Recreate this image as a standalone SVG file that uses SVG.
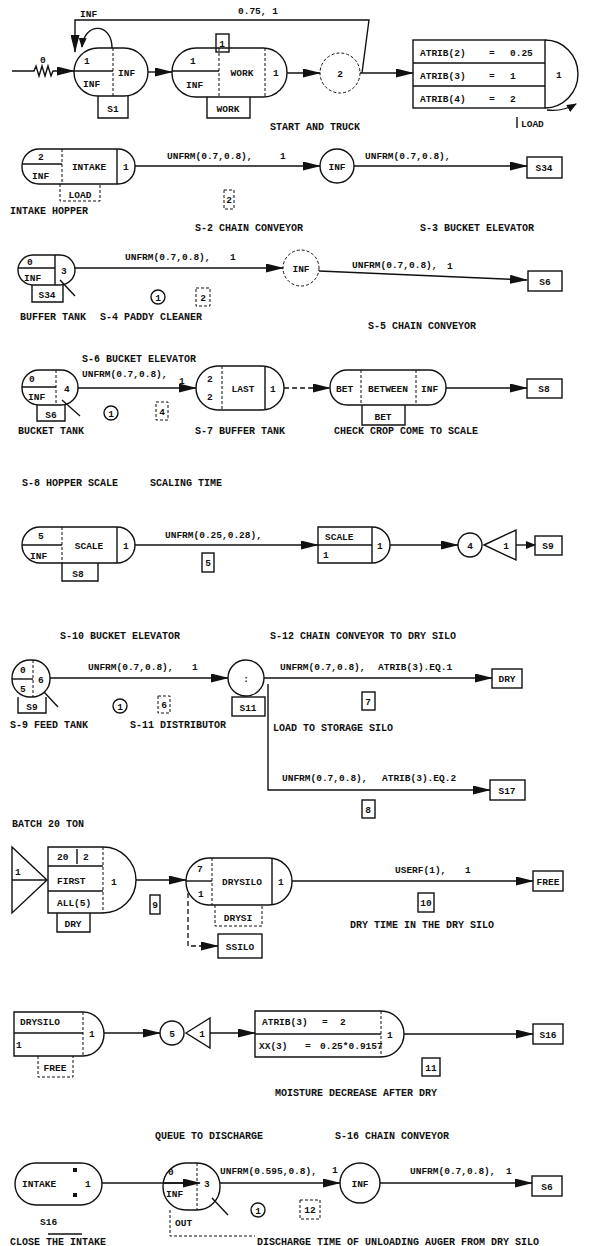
<svg xmlns="http://www.w3.org/2000/svg" width="590" height="1246" viewBox="0 0 590 1246">
<style>
.l{stroke:#111;stroke-width:1.4;fill:none}
.d{stroke:#111;stroke-width:1;fill:none;stroke-dasharray:3 2}
.dl{stroke:#111;stroke-width:1.3;fill:none;stroke-dasharray:5 3}
.t{font-family:"Liberation Mono",monospace;font-size:9.5px;font-weight:bold;fill:#111}
.c{text-anchor:middle}
.lb{font-size:10px}
</style>
<defs>
<marker id="a" markerUnits="userSpaceOnUse" markerWidth="18" markerHeight="9" refX="17" refY="4.5" orient="auto"><path d="M0,0 L18,4.5 L0,9 z" fill="#111"/></marker>
<marker id="s" markerUnits="userSpaceOnUse" markerWidth="10" markerHeight="8" refX="9" refY="4" orient="auto"><path d="M0,0 L10,4 L0,8 z" fill="#111"/></marker>
</defs>
<rect width="590" height="1246" fill="#fff"/>

<g id="connectors">
<path class="l" d="M12,71 H34 l2,-5 l3,10 l3,-10 l3,10 l3,-10 l3,10 l2,-5 H74" marker-end="url(#a)"/>
<path class="l" d="M112,48 C112,22 84,22 82,47" marker-end="url(#s)"/>
<path class="l" d="M362,73 L369,20 H75 V52" marker-end="url(#a)"/>
<path class="l" d="M148,72 H172" marker-end="url(#a)"/>
<path class="l" d="M287,73 H320" marker-end="url(#a)"/>
<path class="l" d="M360,73 H413" marker-end="url(#a)"/>
<path class="l" d="M547,110 Q562,112 576,104" marker-end="url(#s)"/>
<path class="l" d="M135,166 H320" marker-end="url(#a)"/>
<path class="l" d="M354,166 H527" marker-end="url(#a)"/>
<path class="l" d="M75,268 H283" marker-end="url(#a)"/>
<path class="l" d="M319,271 L527,280" marker-end="url(#a)"/>
<path class="l" d="M78,388 H196" marker-end="url(#a)"/>
<path class="dl" d="M284,388 H330" marker-end="url(#a)"/>
<path class="l" d="M446,388 H527" marker-end="url(#a)"/>
<path class="l" d="M135,545 H318" marker-end="url(#a)"/>
<path class="l" d="M390,545 H458" marker-end="url(#a)"/>
<path class="l" d="M516,545 H535" marker-end="url(#s)"/>
<path class="l" d="M50,678 H228" marker-end="url(#a)"/>
<path class="l" d="M264,678 H492" marker-end="url(#a)"/>
<path class="l" d="M268,684 V790 H490" marker-end="url(#a)"/>
<path class="l" d="M136,880 H186" marker-end="url(#a)"/>
<path class="dl" d="M188,893 V946 H218" marker-end="url(#a)"/>
<path class="l" d="M292,881 H533" marker-end="url(#a)"/>
<path class="l" d="M104,1033 H160" marker-end="url(#a)"/>
<path class="l" d="M210,1033 H255" marker-end="url(#a)"/>
<path class="l" d="M404,1034 H533" marker-end="url(#a)"/>
<path class="l" d="M102,1183 H200" marker-end="url(#a)"/>
<path class="l" d="M220,1183 H340" marker-end="url(#a)"/>
<path class="l" d="M380,1183 H532" marker-end="url(#a)"/>
<text class="t" x="40" y="63">0</text>
<text class="t" x="80" y="17">INF</text>
<text class="t" x="238" y="14">0.75, 1</text>
<text class="t" x="167" y="159">UNFRM(0.7,0.8),</text><text class="t" x="280" y="159">1</text>
<text class="t" x="365" y="159">UNFRM(0.7,0.8),</text>
<text class="t" x="125" y="260">UNFRM(0.7,0.8),</text><text class="t" x="230" y="260">1</text>
<text class="t" x="352" y="268">UNFRM(0.7,0.8),</text><text class="t" x="447" y="269">1</text>
<text class="t" x="82" y="377">UNFRM(0.7,0.8),</text><text class="t" x="179" y="384">1</text>
<text class="t" x="165" y="538">UNFRM(0.25,0.28),</text>
<text class="t" x="88" y="670">UNFRM(0.7,0.8),</text><text class="t" x="192" y="670">1</text>
<text class="t" x="280" y="670">UNFRM(0.7,0.8),</text><text class="t" x="378" y="670">ATRIB(3).EQ.1</text>
<text class="t" x="282" y="781">UNFRM(0.7,0.8),</text><text class="t" x="382" y="781">ATRIB(3).EQ.2</text>
<text class="t" x="395" y="873">USERF(1),</text><text class="t" x="465" y="873">1</text>
<text class="t" x="220" y="1174">UNFRM(0.595,0.8),</text><text class="t" x="332" y="1173">1</text>
<text class="t" x="410" y="1174">UNFRM(0.7,0.8),</text><text class="t" x="506" y="1174">1</text>
</g>

<g id="labels">
<text class="t lb" x="270" y="130">START AND TRUCK</text>
<text class="t lb" x="10" y="214">INTAKE HOPPER</text>
<text class="t lb" x="195" y="231">S-2 CHAIN CONVEYOR</text>
<text class="t lb" x="420" y="231">S-3 BUCKET ELEVATOR</text>
<text class="t lb" x="20" y="320">BUFFER TANK</text>
<text class="t lb" x="100" y="320">S-4 PADDY CLEANER</text>
<text class="t lb" x="368" y="329">S-5 CHAIN CONVEYOR</text>
<text class="t lb" x="82" y="362">S-6 BUCKET ELEVATOR</text>
<text class="t lb" x="18" y="434">BUCKET TANK</text>
<text class="t lb" x="195" y="434">S-7 BUFFER TANK</text>
<text class="t lb" x="334" y="434">CHECK CROP COME TO SCALE</text>
<text class="t lb" x="22" y="486">S-8 HOPPER SCALE</text>
<text class="t lb" x="150" y="486">SCALING TIME</text>
<text class="t lb" x="60" y="639">S-10 BUCKET ELEVATOR</text>
<text class="t lb" x="270" y="639">S-12 CHAIN CONVEYOR TO DRY SILO</text>
<text class="t lb" x="10" y="728">S-9 FEED TANK</text>
<text class="t lb" x="130" y="728">S-11 DISTRIBUTOR</text>
<text class="t lb" x="273" y="731">LOAD TO STORAGE SILO</text>
<text class="t lb" x="12" y="827">BATCH 20 TON</text>
<text class="t lb" x="350" y="928">DRY TIME IN THE DRY SILO</text>
<text class="t lb" x="275" y="1096">MOISTURE DECREASE AFTER DRY</text>
<text class="t lb" x="155" y="1139">QUEUE TO DISCHARGE</text>
<text class="t lb" x="335" y="1139">S-16 CHAIN CONVEYOR</text>
<text class="t lb" x="10" y="1245">CLOSE THE INTAKE</text>
<text class="t lb" x="257" y="1245">DISCHARGE TIME OF UNLOADING AUGER FROM DRY SILO</text>
</g>

<g id="S1">
<rect class="l" x="74" y="48" width="74" height="48" rx="24"/>
<line class="d" x1="113" y1="48" x2="113" y2="96"/>
<line class="l" x1="74" y1="71" x2="113" y2="71"/>
<text class="t" x="84" y="64">1</text><text class="t" x="83" y="87">INF</text><text class="t" x="118" y="76">INF</text>
<path class="l" d="M98,96 V118 H128 V96"/><text class="t c" x="113" y="112">S1</text>
</g>

<g id="WORK">
<rect class="l" x="172" y="48" width="115" height="49" rx="24"/>
<line class="d" x1="219" y1="48" x2="219" y2="97"/>
<line class="d" x1="265" y1="48" x2="265" y2="97"/>
<line class="l" x1="172" y1="71" x2="219" y2="71"/>
<text class="t" x="190" y="64">1</text><text class="t" x="186" y="88">INF</text><text class="t c" x="242" y="76">WORK</text><text class="t" x="273" y="76">1</text>
<rect class="l" x="216" y="34" width="13" height="18"/><text class="t c" x="222" y="47">1</text>
<path class="l" d="M207,97 V118 H250 V97"/><text class="t c" x="228" y="112">WORK</text>
</g>

<g id="C2"><circle class="d" cx="340" cy="73" r="20"/><text class="t c" x="340" y="77">2</text></g>

<g id="ASSIGN1">
<rect class="l" x="413" y="40" width="132" height="68"/>
<line class="l" x1="413" y1="63" x2="545" y2="63"/><line class="l" x1="413" y1="86" x2="545" y2="86"/>
<path class="l" d="M545,40 A33,34 0 0 1 545,108"/>
<text class="t" x="420" y="56">ATRIB(2)</text><text class="t" x="489" y="56">=</text><text class="t" x="510" y="56">0.25</text>
<text class="t" x="420" y="79">ATRIB(3)</text><text class="t" x="489" y="79">=</text><text class="t" x="510" y="79">1</text>
<text class="t" x="420" y="102">ATRIB(4)</text><text class="t" x="489" y="102">=</text><text class="t" x="510" y="102">2</text>
<text class="t" x="556" y="78">1</text>
<line class="l" x1="517" y1="117" x2="517" y2="128"/><text class="t" x="521" y="127">LOAD</text>
</g>

<g id="INTAKE">
<rect class="l" x="22" y="149" width="113" height="35" rx="17"/>
<line class="d" x1="62" y1="149" x2="62" y2="184"/><line class="l" x1="117" y1="149" x2="117" y2="184"/>
<line class="l" x1="22" y1="164" x2="62" y2="164"/>
<text class="t" x="38" y="160">2</text><text class="t" x="32" y="179">INF</text><text class="t c" x="89" y="170">INTAKE</text><text class="t" x="123" y="170">1</text>
<path class="d" d="M60,184 V201 H100 V184"/><text class="t c" x="80" y="198">LOAD</text>
</g>

<g id="C_INF1"><circle class="l" cx="337" cy="166" r="17"/><text class="t c" x="337" y="170">INF</text></g>
<g id="B2"><rect class="d" x="224" y="190" width="10" height="19"/><text class="t c" x="229" y="203">2</text></g>
<g id="S34"><rect class="l" x="527" y="157" width="35" height="21"/><text class="t c" x="544" y="171">S34</text></g>

<g id="BUFFER">
<rect class="l" x="18" y="255" width="57" height="30" rx="15"/>
<line class="l" x1="55" y1="255" x2="55" y2="285"/><line class="l" x1="18" y1="268" x2="55" y2="268"/>
<text class="t" x="27" y="265">0</text><text class="t" x="24" y="281">INF</text><text class="t" x="61" y="274">3</text>
<line class="l" x1="60" y1="280" x2="75" y2="296"/>
<path class="l" d="M32,285 V302 H63 V285"/><text class="t c" x="47" y="298">S34</text>
</g>
<g id="A1a"><circle class="l" cx="158" cy="297" r="7"/><text class="t c" x="158" y="301">1</text></g>
<g id="B3"><rect class="d" x="196" y="288" width="14" height="18"/><text class="t c" x="203" y="301">2</text></g>
<g id="C_INF2"><circle class="d" cx="301" cy="268" r="18"/><text class="t c" x="301" y="272">INF</text></g>
<g id="S6a"><rect class="l" x="528" y="271" width="34" height="20"/><text class="t c" x="545" y="285">S6</text></g>

<g id="BUCKET">
<rect class="l" x="22" y="370" width="56" height="35" rx="17"/>
<line class="d" x1="56" y1="370" x2="56" y2="405"/><line class="l" x1="22" y1="387" x2="56" y2="387"/>
<text class="t" x="29" y="382">0</text><text class="t" x="28" y="400">INF</text><text class="t" x="64" y="392">4</text>
<line class="l" x1="62" y1="400" x2="80" y2="416"/>
<path class="l" d="M37,405 V421 H65 V405"/><text class="t c" x="51" y="418">S6</text>
</g>
<g id="A1b"><circle class="l" cx="111" cy="413" r="7"/><text class="t c" x="111" y="417">1</text></g>
<g id="B4"><rect class="d" x="156" y="402" width="12" height="18"/><text class="t c" x="162" y="415">4</text></g>

<g id="LAST">
<rect class="l" x="196" y="366" width="88" height="44" rx="22"/>
<line class="d" x1="222" y1="366" x2="222" y2="410"/><line class="l" x1="265" y1="366" x2="265" y2="410"/>
<text class="t" x="207" y="382">2</text><text class="t" x="207" y="400">2</text><text class="t c" x="243" y="392">LAST</text><text class="t" x="270" y="392">1</text>
</g>

<g id="BET">
<rect class="l" x="330" y="370" width="116" height="35" rx="17"/>
<line class="d" x1="361" y1="370" x2="361" y2="405"/><line class="d" x1="416" y1="370" x2="416" y2="405"/>
<text class="t" x="336" y="392">BET</text><text class="t c" x="388" y="392">BETWEEN</text><text class="t" x="421" y="392">INF</text>
<path class="l" d="M362,405 V425 H405 V405"/><text class="t c" x="383" y="420">BET</text>
</g>
<g id="S8a"><rect class="l" x="527" y="379" width="35" height="19"/><text class="t c" x="544" y="392">S8</text></g>

<g id="SCALEQ">
<rect class="l" x="22" y="527" width="113" height="36" rx="18"/>
<line class="d" x1="62" y1="527" x2="62" y2="563"/><line class="l" x1="117" y1="527" x2="117" y2="563"/>
<line class="l" x1="22" y1="545" x2="62" y2="545"/>
<text class="t" x="38" y="539">5</text><text class="t" x="30" y="559">INF</text><text class="t c" x="89" y="549">SCALE</text><text class="t" x="123" y="549">1</text>
<path class="l" d="M62,563 V581 H98 V563"/><text class="t c" x="78" y="577">S8</text>
</g>
<g id="B5"><rect class="l" x="202" y="553" width="12" height="19"/><text class="t c" x="208" y="566">5</text></g>
<g id="SCALEA">
<path class="l" d="M372,527 H318 V563 H372"/>
<path class="l" d="M372,527 A18,18 0 0 1 372,563"/>
<line class="l" x1="372" y1="527" x2="372" y2="563"/><line class="l" x1="318" y1="545" x2="372" y2="545"/>
<text class="t" x="325" y="540">SCALE</text><text class="t" x="323" y="558">1</text><text class="t" x="377" y="549">1</text>
</g>
<g id="C4"><circle class="l" cx="470" cy="545" r="12"/><text class="t c" x="470" y="549">4</text></g>
<g id="UB1"><polygon class="l" points="484,545 516,530 516,560"/><text class="t c" x="506" y="549">1</text></g>
<g id="S9a"><rect class="l" x="535" y="536" width="27" height="19"/><text class="t c" x="548" y="549">S9</text></g>

<g id="FEED">
<rect class="l" x="12" y="660" width="38" height="37" rx="18"/>
<line class="d" x1="33" y1="660" x2="33" y2="697"/><line class="l" x1="12" y1="679" x2="33" y2="679"/>
<text class="t" x="20" y="673">0</text><text class="t" x="20" y="692">5</text><text class="t" x="38" y="683">6</text>
<line class="l" x1="44" y1="692" x2="58" y2="707"/>
<path class="l" d="M18,697 V713 H46 V697"/><text class="t c" x="32" y="710">S9</text>
</g>
<g id="A1c"><circle class="l" cx="120" cy="706" r="7"/><text class="t c" x="120" y="710">1</text></g>
<g id="B6"><rect class="d" x="158" y="696" width="12" height="17"/><text class="t c" x="164" y="708">6</text></g>
<g id="DIST">
<circle class="l" cx="246" cy="678" r="18"/><text class="t c" x="246" y="682">:</text>
<rect class="l" x="232" y="697" width="33" height="19"/><text class="t c" x="248" y="711">S11</text>
</g>
<g id="B7"><rect class="l" x="362" y="692" width="13" height="18"/><text class="t c" x="368" y="705">7</text></g>
<g id="DRYa"><rect class="l" x="492" y="669" width="30" height="19"/><text class="t c" x="507" y="682">DRY</text></g>
<g id="B8"><rect class="l" x="362" y="800" width="13" height="18"/><text class="t c" x="368" y="813">8</text></g>
<g id="S17"><rect class="l" x="490" y="780" width="35" height="20"/><text class="t c" x="507" y="794">S17</text></g>

<g id="BATCH">
<polygon class="l" points="12,847 47,880 12,913"/><line class="l" x1="12" y1="880" x2="47" y2="880"/>
<text class="t" x="15" y="875">1</text>
<path class="l" d="M103,847 H48 V913 H103"/>
<path class="l" d="M103,847 A33,33 0 0 1 103,913"/>
<line class="d" x1="103" y1="847" x2="103" y2="913"/>
<line class="l" x1="48" y1="866" x2="103" y2="866"/><line class="l" x1="48" y1="891" x2="103" y2="891"/>
<line class="l" x1="77" y1="849" x2="77" y2="864"/>
<text class="t" x="57" y="860">20</text><text class="t" x="83" y="860">2</text>
<text class="t" x="57" y="884">FIRST</text><text class="t" x="57" y="906">ALL(5)</text>
<text class="t" x="111" y="885">1</text>
<path class="l" d="M57,913 V932 H90 V913"/><text class="t c" x="73" y="927">DRY</text>
</g>
<g id="B9"><rect class="l" x="150" y="895" width="10" height="19"/><text class="t c" x="155" y="908">9</text></g>

<g id="DRYSILO">
<rect class="l" x="186" y="858" width="106" height="47" rx="23"/>
<line class="d" x1="212" y1="858" x2="212" y2="905"/><line class="l" x1="272" y1="858" x2="272" y2="905"/>
<line class="l" x1="186" y1="881" x2="212" y2="881"/>
<text class="t" x="197" y="872">7</text><text class="t" x="198" y="897">1</text><text class="t c" x="242" y="885">DRYSILO</text><text class="t" x="278" y="885">1</text>
<path class="d" d="M215,905 V926 H262 V905"/><text class="t c" x="238" y="921">DRYSI</text>
</g>
<g id="SSILO"><rect class="l" x="218" y="934" width="44" height="24"/><text class="t c" x="240" y="950">SSILO</text></g>
<g id="B10"><rect class="l" x="418" y="893" width="16" height="19"/><text class="t c" x="426" y="906">10</text></g>
<g id="FREEa"><rect class="l" x="533" y="871" width="30" height="20"/><text class="t c" x="548" y="885">FREE</text></g>

<g id="FREEN">
<path class="l" d="M83,1012 H14 V1056 H83"/>
<path class="l" d="M83,1012 A21,22 0 0 1 83,1056"/>
<line class="d" x1="83" y1="1012" x2="83" y2="1056"/><line class="l" x1="14" y1="1033" x2="83" y2="1033"/>
<text class="t" x="20" y="1025">DRYSILO</text><text class="t" x="16" y="1048">1</text><text class="t" x="89" y="1037">1</text>
<path class="d" d="M38,1056 V1077 H73 V1056"/><text class="t c" x="55" y="1071">FREE</text>
</g>
<g id="C5"><circle class="l" cx="172" cy="1033" r="12"/><text class="t c" x="172" y="1037">5</text></g>
<g id="UB2"><polygon class="l" points="186,1033 210,1018 210,1048"/><text class="t c" x="202" y="1037">1</text></g>
<g id="ASSIGN2">
<path class="l" d="M381,1011 H255 V1057 H381"/>
<path class="l" d="M381,1011 A23,23 0 0 1 381,1057"/>
<line class="d" x1="381" y1="1011" x2="381" y2="1057"/><line class="l" x1="255" y1="1034" x2="381" y2="1034"/>
<text class="t" x="262" y="1025">ATRIB(3)</text><text class="t" x="322" y="1025">=</text><text class="t" x="340" y="1025">2</text>
<text class="t" x="259" y="1049">XX(3)</text><text class="t" x="305" y="1049">=</text><text class="t" x="320" y="1049">0.25*0.9157</text>
<text class="t" x="387" y="1038">1</text>
</g>
<g id="B11"><rect class="l" x="422" y="1058" width="18" height="18"/><text class="t c" x="431" y="1071">11</text></g>
<g id="S16a"><rect class="l" x="533" y="1024" width="30" height="20"/><text class="t c" x="548" y="1038">S16</text></g>

<g id="CLOSE">
<rect class="l" x="15" y="1163" width="87" height="42" rx="21"/>
<text class="t" x="22" y="1187">INTAKE</text>
<rect x="73" y="1168" width="4" height="4" fill="#111"/><rect x="73" y="1193" width="4" height="4" fill="#111"/>
<text class="t" x="85" y="1187">1</text>
<text class="t" x="40" y="1225">S16</text>
<line class="l" x1="48" y1="1234" x2="82" y2="1234"/>
</g>
<g id="OUT">
<rect class="l" x="163" y="1163" width="57" height="47" rx="23"/>
<line class="d" x1="197" y1="1163" x2="197" y2="1210"/><line class="l" x1="163" y1="1183" x2="197" y2="1183"/>
<text class="t" x="168" y="1175">0</text><text class="t" x="166" y="1197">INF</text><text class="t" x="204" y="1187">3</text>
<line class="l" x1="212" y1="1198" x2="228" y2="1215"/>
<path class="d" d="M170,1210 V1236 H255"/><text class="t" x="175" y="1226">OUT</text>
</g>
<g id="A1d"><circle class="l" cx="258" cy="1210" r="7"/><text class="t c" x="258" y="1214">1</text></g>
<g id="B12"><rect class="d" x="300" y="1200" width="20" height="19"/><text class="t c" x="310" y="1213">12</text></g>
<g id="C_INF3"><circle class="l" cx="360" cy="1183" r="20"/><text class="t c" x="360" y="1187">INF</text></g>
<g id="S6b"><rect class="l" x="532" y="1176" width="30" height="20"/><text class="t c" x="547" y="1190">S6</text></g>
</svg>
